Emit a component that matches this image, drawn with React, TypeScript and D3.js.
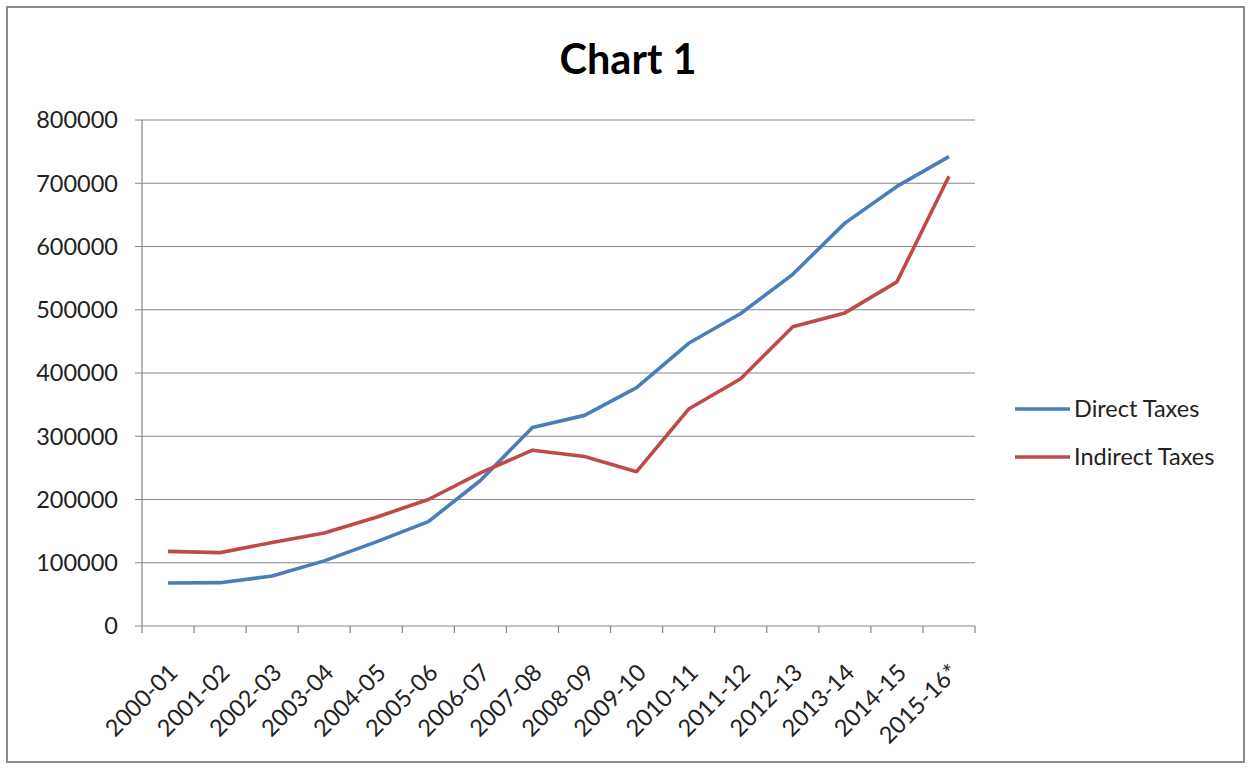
import { useEffect, useRef } from "react";
import * as d3 from "d3";

const years = [
  "2000-01", "2001-02", "2002-03", "2003-04", "2004-05", "2005-06", "2006-07", "2007-08",
  "2008-09", "2009-10", "2010-11", "2011-12", "2012-13", "2013-14", "2014-15", "2015-16*",
];
const directTaxes = [
  68000, 68500, 79000, 103000, 133000, 165000, 230000, 314000,
  333000, 377000, 447000, 494000, 556000, 637000, 695000, 742000,
];
const indirectTaxes = [
  118000, 116000, 132000, 147000, 172000, 200000, 242000, 278000,
  268000, 244000, 343000, 391000, 473000, 495000, 544000, 711000,
];
const yTicks = [0, 100000, 200000, 300000, 400000, 500000, 600000, 700000, 800000];

const series = [
  { name: "Direct Taxes", values: directTaxes, color: "#4A7EBB" },
  { name: "Indirect Taxes", values: indirectTaxes, color: "#BE4B48" },
];

export default function App() {
  const ref = useRef<SVGSVGElement>(null);

  useEffect(() => {
    const svg = d3.select(ref.current);
    svg.selectAll("*").remove();

    const W = 1251, H = 769;
    const left = 142, right = 975, top = 120, bottom = 626;
    const font = "Lato, 'Open Sans', sans-serif";
    const fs = 23.5;

    svg.append("rect").attr("width", W).attr("height", H).attr("fill", "#fff");
    svg.append("rect")
      .attr("x", 7).attr("y", 7).attr("width", W - 14).attr("height", H - 14)
      .attr("fill", "none").attr("stroke", "#8a8a8a").attr("stroke-width", 2);

    // title
    svg.append("text")
      .attr("x", 628).attr("y", 74)
      .attr("text-anchor", "middle")
      .attr("font-family", font).attr("font-weight", "bold").attr("font-size", 41.5)
      .attr("fill", "#000")
      .text("Chart 1");

    const x = d3.scaleBand().domain(years).range([left, right]);
    const y = d3.scaleLinear().domain([0, 800000]).range([bottom, top]);

    // gridlines
    svg.append("g").selectAll("line").data(yTicks).join("line")
      .attr("x1", left - 7).attr("x2", right)
      .attr("y1", (d) => y(d)).attr("y2", (d) => y(d))
      .attr("stroke", "#868686").attr("stroke-width", 1.2);

    // y axis line
    svg.append("line")
      .attr("x1", left).attr("x2", left).attr("y1", top).attr("y2", bottom)
      .attr("stroke", "#868686").attr("stroke-width", 1.2);

    // y labels
    svg.append("g").selectAll("text").data(yTicks).join("text")
      .attr("x", left - 24).attr("y", (d) => y(d))
      .attr("dy", "0.36em")
      .attr("text-anchor", "end")
      .attr("font-family", font).attr("font-size", fs)
      .attr("fill", "#222")
      .text((d) => String(d));

    // x ticks at category boundaries
    const bounds = years.map((d) => x(d) as number).concat([right]);
    svg.append("g").selectAll("line").data(bounds).join("line")
      .attr("x1", (d) => d).attr("x2", (d) => d)
      .attr("y1", bottom).attr("y2", bottom + 7)
      .attr("stroke", "#868686").attr("stroke-width", 1.2);

    // x labels
    const cx = (d: string) => (x(d) as number) + x.bandwidth() / 2;
    svg.append("g").selectAll("text").data(years).join("text")
      .attr("transform", (d) => `translate(${cx(d) + 11},${bottom + 48}) rotate(-45)`)
      .attr("text-anchor", "end")
      .attr("font-family", font).attr("font-size", fs)
      .attr("fill", "#222")
      .text((d) => d);

    // lines
    const line = d3.line<number>()
      .x((_, i) => cx(years[i]))
      .y((d) => y(d));
    series.forEach((s) => {
      svg.append("path")
        .datum(s.values)
        .attr("fill", "none")
        .attr("stroke", s.color)
        .attr("stroke-width", 3.6)
        .attr("stroke-linejoin", "round")
        .attr("d", line);
    });

    // legend
    const lg = svg.append("g");
    series.forEach((s, i) => {
      const ly = 409 + i * 48;
      lg.append("line")
        .attr("x1", 1015).attr("x2", 1070).attr("y1", ly).attr("y2", ly)
        .attr("stroke", s.color).attr("stroke-width", 3.6);
      lg.append("text")
        .attr("x", 1074).attr("y", ly).attr("dy", "0.36em")
        .attr("font-family", font).attr("font-size", fs)
        .attr("fill", "#222")
        .text(s.name);
    });
  }, []);

  return (
    <svg
      ref={ref}
      width={1251}
      height={769}
      style={{ position: "absolute", left: 0, top: 0 }}
    ></svg>
  );
}
